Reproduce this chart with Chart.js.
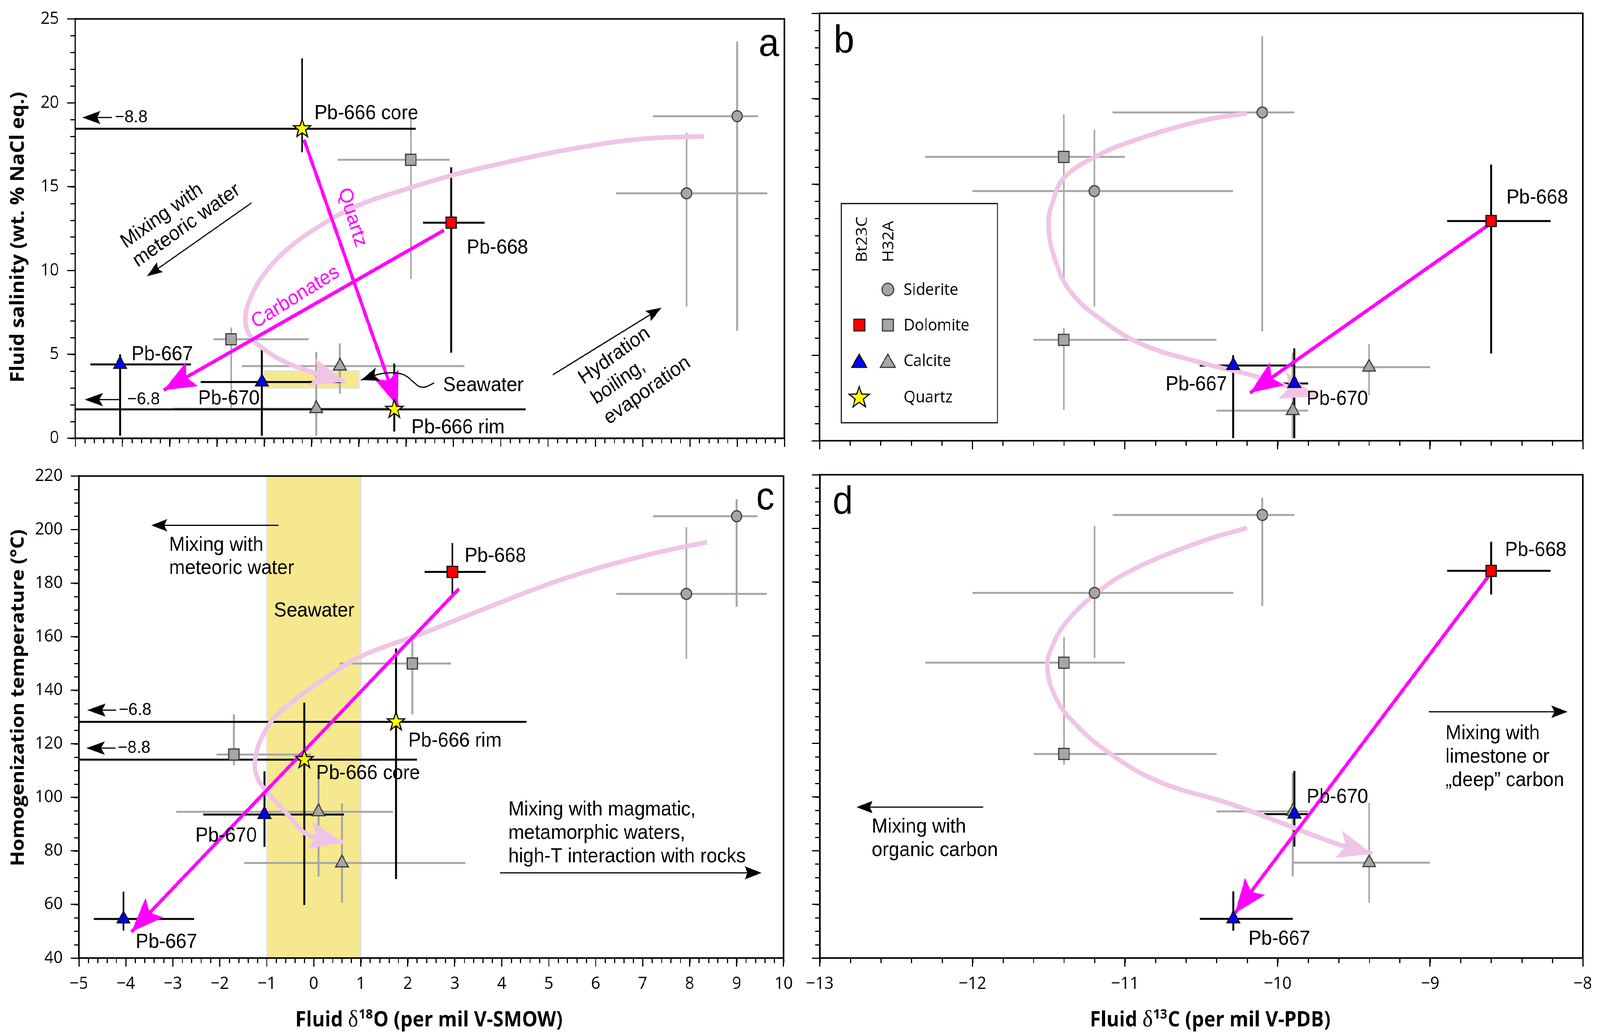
<!DOCTYPE html>
<html>
<head>
<meta charset="utf-8">
<script src="https://cdn.jsdelivr.net/npm/chart.js@4.4.1/dist/chart.umd.min.js"></script>
<style>
html,body{margin:0;padding:0;background:#fff;overflow:hidden;}
#wrap{position:absolute;left:0;top:0;width:4363px;height:2649px;background:#fff;overflow:hidden;transform-origin:0 0;}
#wrap canvas{position:absolute;}
</style>
</head>
<body>
<div id="wrap">
<canvas id="ca"></canvas><canvas id="cb"></canvas><canvas id="cc"></canvas><canvas id="cd"></canvas>
</div>
<script>
// ---------------- DATA ----------------
// Bt23C samples (coloured symbols)
const btLabels  = ['Pb-667', 'Pb-670', 'Pb-668', 'Pb-666 core', 'Pb-666 rim'];
const btMineral = ['Calcite', 'Calcite', 'Dolomite', 'Quartz', 'Quartz'];
const btO18   = [-4.05, -1.05, 2.95, -0.2, 1.75];
const btO18Lo = [-4.68, -2.35, 2.36, -8.8, -6.8];
const btO18Hi = [-2.55, 0.64, 3.66, 2.2, 4.53];
const btSal   = [4.4, 3.35, 12.85, 18.45, 1.72];
const btSalLo = [0.15, 0.15, 5.1, 17.05, 0.4];
const btSalHi = [5.0, 5.4, 16.15, 22.65, 4.45];
const btC13   = [-10.29, -9.89, -8.6, null, null];
const btC13Lo = [-10.51, -10.09, -8.89, null, null];
const btC13Hi = [-9.9, -9.8, -8.21, null, null];
const btTh    = [54.6, 93.6, 184.2, 114.1, 128.2];
const btThLo  = [50.2, 81.5, 175.4, 59.8, 69.5];
const btThHi  = [64.8, 109.7, 195, 135.4, 155.6];

// H32A samples (grey symbols)
const hMineral = ['Siderite', 'Siderite', 'Dolomite', 'Dolomite', 'Calcite', 'Calcite'];
const hO18   = [9.0, 7.93, 2.1, -1.7, 0.1, 0.6];
const hO18Lo = [7.22, 6.44, 0.55, -2.07, -2.93, -1.48];
const hO18Hi = [9.44, 9.64, 2.92, -0.06, 1.69, 3.23];
const hSal   = [19.2, 14.6, 16.6, 5.9, 1.76, 4.3];
const hSalLo = [6.4, 7.85, 9.5, 1.8, 0.15, 2.65];
const hSalHi = [23.65, 18.2, 19.1, 6.6, 5.15, 5.65];
const hC13   = [-10.1, -11.2, -11.4, -11.4, -9.9, -9.4];
const hC13Lo = [-11.08, -12.0, -12.31, -11.6, -10.4, -9.9];
const hC13Hi = [-9.89, -10.29, -11.0, -10.4, -9.8, -9.0];
const hTh    = [205, 176, 150, 116, 94.6, 75.5];
const hThLo  = [171.2, 151.7, 131, 112, 70.4, 60.6];
const hThHi  = [211.4, 200.9, 159.5, 131, 109, 97.8];

// Seawater field
const seaO18 = [-1, 1];
const seaSal = [3, 4];

// Magenta trend arrows (start -> tip)
const carbA_x = [2.80, -3.13], carbA_y = [12.4, 2.86];
const qtzA_x  = [-0.16, 1.82], qtzA_y  = [17.8, 1.9];
const trendB_x = [-8.62, -10.18], trendB_y = [12.6, 2.8];
const trendC_x = [3.09, -3.88],  trendC_y = [177.9, 49.8];
const trendD_x = [-8.61, -10.28], trendD_y = [182.8, 56.7];

// Pale pink evolution paths (start -> tip)
const pinkA_x = [8.3, 7.0, 5.5, 4.2, 3.0, 2.0, 1.0, 0.2, -0.5, -1.0, -1.3, -1.4, -1.3, -1.0, -0.6, 0.0, 0.72];
const pinkA_y = [18.0, 17.85, 17.25, 16.5, 15.7, 14.85, 13.9, 12.7, 11.3, 9.8, 8.3, 7.1, 6.1, 5.3, 4.6, 3.95, 3.38];
const pinkB_x = [-10.2, -10.49, -10.94, -11.19, -11.4, -11.47, -11.5, -11.46, -11.35, -11.11, -10.86, -10.49, -10.15, -9.75];
const pinkB_y = [19.15, 18.73, 17.56, 16.63, 15.37, 14.03, 12.68, 10.67, 8.65, 6.8, 5.54, 4.54, 3.78, 2.6];
const pinkC_x = [8.37, 7.09, 5.3, 3.51, 2.31, 1.12, 0.48, -0.71, -1.07, -1.25, -1.19, -0.95, -0.53, -0.12, 0.63];
const pinkC_y = [195.3, 190.5, 181.5, 169.6, 161.2, 153.6, 147.3, 132, 123.6, 113.8, 106.9, 101.3, 93.1, 86, 83.2];
const pinkD_x = [-10.2, -10.49, -10.94, -11.19, -11.4, -11.49, -11.51, -11.47, -11.36, -11.11, -10.77, -10.33, -9.97, -9.61, -9.38];
const pinkD_y = [200.2, 195.3, 184.9, 175.8, 164, 154.2, 148.7, 138.9, 129.2, 116.6, 105.5, 97.8, 90.2, 82.5, 78.8];

// Axis ranges
const xO18Range = [-5, 10], xC13Range = [-13, -8];
const ySalRange = [0, 25], yThRange = [40, 220];

// ---------------- STYLE ----------------
const MAGENTA = '#ff00ff', PINK = '#f0c4e7', GREYBAR = '#a6a6a6';
const ANN = (s) => s + 'px "Liberation Sans", Arial, sans-serif';
const TICKFONT = {family: '"Open Sans", sans-serif', size: 44};

function starPath(g, x, y, R) {
  g.beginPath();
  for (let i = 0; i < 10; i++) {
    const rr = i % 2 ? R * 0.4 : R;
    const a = -Math.PI / 2 + i * Math.PI / 5;
    g.lineTo(x + rr * Math.cos(a), y + rr * Math.sin(a));
  }
  g.closePath();
}
function makeStar(R) {
  const c = document.createElement('canvas');
  const s = Math.ceil(R * 2 + 8);
  c.width = s; c.height = s;
  const g = c.getContext('2d');
  starPath(g, s / 2, s / 2, R);
  g.fillStyle = '#ffff00'; g.fill();
  g.lineWidth = 3; g.strokeStyle = '#000'; g.lineJoin = 'miter'; g.stroke();
  return c;
}
const STAR = makeStar(25);
const SHAPE = {Siderite: ['circle', 14], Dolomite: ['rect', 20], Calcite: ['triangle', 20]};
const BT_FILL = {Dolomite: '#ff0000', Calcite: '#0000ff', Quartz: '#ffff00'};

function barData(xs, ys, xlo, xhi, ylo, yhi) {
  const d = [];
  xs.forEach((x, i) => {
    if (x == null || ys[i] == null) return;
    d.push({x: xlo[i], y: ys[i]}, {x: xhi[i], y: ys[i]}, {x: xhi[i], y: null});
    d.push({x: x, y: ylo[i]}, {x: x, y: yhi[i]}, {x: x, y: null});
  });
  return d;
}
function barSet(data, color, width, order) {
  return {data, showLine: true, spanGaps: false, borderColor: color, borderWidth: width,
    pointRadius: 0, borderCapStyle: 'butt', order, clip: 0};
}
function markerSet(xs, ys, minerals, group, order) {
  const idx = xs.map((x, i) => i).filter(i => xs[i] != null && ys[i] != null);
  return {
    data: idx.map(i => ({x: xs[i], y: ys[i]})),
    showLine: false, order,
    pointStyle: idx.map(i => minerals[i] === 'Quartz' ? STAR : SHAPE[minerals[i]][0]),
    pointRadius: idx.map(i => minerals[i] === 'Quartz' ? 25 : SHAPE[minerals[i]][1]),
    pointBackgroundColor: idx.map(i => group === 'bt' ? BT_FILL[minerals[i]] : '#a6a6a6'),
    pointBorderColor: group === 'bt' ? '#111' : '#3a3a3a',
    pointBorderWidth: 3
  };
}
function pathSet(xs, ys, color, width, tension, order, head) {
  return {data: xs.map((x, i) => ({x, y: ys[i]})), showLine: true, borderColor: color,
    borderWidth: width, pointRadius: 0, tension, order, arrow: head, borderCapStyle: 'butt', clip: false};
}

function stealth(ctx, tip, ang, len, half, notch, color) {
  ctx.save();
  ctx.translate(tip[0], tip[1]); ctx.rotate(ang);
  ctx.beginPath();
  ctx.moveTo(0, 0); ctx.lineTo(-len, -half); ctx.lineTo(-len + notch, 0); ctx.lineTo(-len, half);
  ctx.closePath(); ctx.fillStyle = color; ctx.fill();
  ctx.restore();
}
function P(chart, x, y) { return [chart.scales.x.getPixelForValue(x), chart.scales.y.getPixelForValue(y)]; }
function fmtNum(v) { const r = Math.round(v * 100) / 100; return r < 0 ? '\u2212' + Math.abs(r) : String(r); }

function drawItems(chart, items) {
  const ctx = chart.ctx;
  items.forEach(it => {
    ctx.save();
    if (it.t === 'text') {
      const [x, y] = P(chart, it.x, it.y);
      ctx.translate(x, y);
      if (it.rot) ctx.rotate(it.rot * Math.PI / 180);
      ctx.font = it.font || ANN(52);
      ctx.fillStyle = it.color || '#000';
      ctx.textAlign = it.align || 'left';
      ctx.textBaseline = it.base || 'alphabetic';
      it.text.split('\n').forEach((l, i) => ctx.fillText(l, 0, i * (it.lh || 60)));
    } else if (it.t === 'arrow') {
      const a = P(chart, it.from[0], it.from[1]), b = P(chart, it.to[0], it.to[1]);
      const ang = Math.atan2(b[1] - a[1], b[0] - a[0]);
      const h = it.head || [44, 16, 8];
      ctx.strokeStyle = '#000'; ctx.lineWidth = it.w || 3;
      ctx.beginPath(); ctx.moveTo(a[0], a[1]);
      ctx.lineTo(b[0] - Math.cos(ang) * (h[0] - h[2]), b[1] - Math.sin(ang) * (h[0] - h[2]));
      ctx.stroke();
      stealth(ctx, b, ang, h[0], h[1], h[2], '#000');
    } else if (it.t === 'curve') {
      const pts = it.pts.map(p => P(chart, p[0], p[1]));
      ctx.strokeStyle = '#000'; ctx.lineWidth = it.w || 3; ctx.lineCap = 'round';
      ctx.beginPath(); ctx.moveTo(pts[0][0], pts[0][1]);
      for (let i = 1; i < pts.length - 1; i++) {
        const mx = (pts[i][0] + pts[i + 1][0]) / 2, my = (pts[i][1] + pts[i + 1][1]) / 2;
        ctx.quadraticCurveTo(pts[i][0], pts[i][1], mx, my);
      }
      const n = pts.length;
      ctx.lineTo(pts[n - 1][0], pts[n - 1][1]);
      ctx.stroke();
      const ang = Math.atan2(pts[n - 1][1] - pts[n - 2][1], pts[n - 1][0] - pts[n - 2][0]);
      const h = it.head || [46, 17, 9];
      stealth(ctx, pts[n - 1], ang, h[0], h[1], h[2], '#000');
    }
    ctx.restore();
  });
}

function drawMinor(chart, axis, step, len) {
  const s = chart.scales[axis], ctx = chart.ctx, a = chart.chartArea;
  ctx.save(); ctx.strokeStyle = '#000'; ctx.lineWidth = 3; ctx.beginPath();
  const n = Math.round((s.max - s.min) / step);
  for (let i = 0; i <= n; i++) {
    const p = Math.round(s.getPixelForValue(s.min + i * step)) + 0.5;
    if (axis === 'x') { ctx.moveTo(p, a.bottom); ctx.lineTo(p, a.bottom + len); }
    else { ctx.moveTo(a.left, p); ctx.lineTo(a.left - len, p); }
  }
  ctx.stroke(); ctx.restore();
}

// ---- axis titles ----
function yTitle(ctx, text, x, cy, len) {
  ctx.save();
  ctx.font = 'bold 50px "Open Sans", sans-serif';
  const size = 50 * len / ctx.measureText(text).width;
  ctx.translate(x, cy); ctx.rotate(-Math.PI / 2);
  ctx.font = 'bold ' + size.toFixed(1) + 'px "Open Sans", sans-serif'; ctx.fillStyle = '#000';
  ctx.textAlign = 'center'; ctx.textBaseline = 'alphabetic';
  ctx.fillText(text, 0, 0); ctx.restore();
}
const tFonts = (k) => ({B: 'bold ' + (50 * k).toFixed(1) + 'px "Open Sans", sans-serif',
  D: (56 * k).toFixed(1) + 'px "Liberation Serif", serif', S: 'bold ' + (32 * k).toFixed(1) + 'px "Open Sans", sans-serif'});
function tWidths(ctx, f, pre, sup, post) {
  ctx.font = f.B; const w1 = ctx.measureText(pre).width, w3 = ctx.measureText(post).width;
  ctx.font = f.D; const w2 = ctx.measureText('\u03b4').width;
  ctx.font = f.S; const ws = ctx.measureText(sup).width;
  return [w1, w2, ws, w3];
}
let titleK = null;
function xTitle(ctx, cx, by, pre, sup, post, len) {
  ctx.save(); ctx.fillStyle = '#000'; ctx.textAlign = 'left'; ctx.textBaseline = 'alphabetic';
  if (titleK == null) {
    const w = tWidths(ctx, tFonts(1), pre, sup, post);
    titleK = len / (w[0] + w[1] + w[2] + w[3] + 2);
  }
  const k = titleK, f = tFonts(k), w = tWidths(ctx, f, pre, sup, post);
  let x = cx - (w[0] + w[1] + w[2] + w[3] + 2) / 2;
  ctx.font = f.B; ctx.fillText(pre, x, by); x += w[0];
  ctx.font = f.D; ctx.fillText('\u03b4', x, by); x += w[1] + 1;
  ctx.font = f.S; ctx.fillText(sup, x, by - 19 * k); x += w[2] + 1;
  ctx.font = f.B; ctx.fillText(post, x, by);
  ctx.restore();
}

function legendShape(ctx, shape, x, y, r, fill, stroke) {
  ctx.save(); ctx.fillStyle = fill; ctx.strokeStyle = stroke; ctx.lineWidth = 3; ctx.beginPath();
  if (shape === 'circle') ctx.arc(x, y, r, 0, Math.PI * 2);
  else if (shape === 'rect') ctx.rect(x - r, y - r, 2 * r, 2 * r);
  else if (shape === 'triangle') { ctx.moveTo(x, y - r * 1.1); ctx.lineTo(x + r * 1.2, y + r * 0.9); ctx.lineTo(x - r * 1.2, y + r * 0.9); ctx.closePath(); }
  else if (shape === 'star') starPath(ctx, x, y, r);
  ctx.fill(); ctx.stroke(); ctx.restore();
}

// ---------------- PANELS ----------------
const panels = {
  a: {id: 'ca', left: 0,    top: 0,    w: 2180, h: 1170, area: {l: 205,  r: 2139, t: 34,   b: 1128}},
  b: {id: 'cb', left: 2180, top: 0,    w: 2183, h: 1170, area: {l: 2235, r: 4316, t: 34,   b: 1128}},
  c: {id: 'cc', left: 0,    top: 1170, w: 2180, h: 1479, area: {l: 215,  r: 2139, t: 1215, b: 2452}},
  d: {id: 'cd', left: 2180, top: 1170, w: 2183, h: 1479, area: {l: 2235, r: 4316, t: 1215, b: 2452}}
};

function buildChart(p, spec) {
  const cv = document.getElementById(p.id);
  cv.width = p.w; cv.height = p.h;
  cv.style.left = p.left + 'px'; cv.style.top = p.top + 'px';
  cv.style.width = p.w + 'px'; cv.style.height = p.h + 'px';
  const gridOpt = {display: true, drawOnChartArea: false, drawTicks: true, tickLength: 22,
    tickWidth: 3, tickColor: '#000', lineWidth: 3, color: '#000'};
  const plugin = {
    id: 'panel_' + p.id,
    beforeDatasetsDraw(chart) {
      const ctx = chart.ctx, a = chart.chartArea, sx = chart.scales.x, sy = chart.scales.y;
      (spec.bands || []).forEach(b => {
        const x0 = sx.getPixelForValue(b.x[0]), x1 = sx.getPixelForValue(b.x[1]);
        const y0 = b.y ? sy.getPixelForValue(b.y[1]) : a.top, y1 = b.y ? sy.getPixelForValue(b.y[0]) : a.bottom;
        ctx.save(); ctx.fillStyle = '#f6e88f'; ctx.fillRect(x0, y0, x1 - x0, y1 - y0);
        ctx.strokeStyle = '#e2e2e2'; ctx.lineWidth = 4; ctx.strokeRect(x0, y0, x1 - x0, y1 - y0); ctx.restore();
      });
    },
    afterDatasetDraw(chart, args) {
      const ds = chart.data.datasets[args.index];
      if (!ds.arrow) return;
      const pts = args.meta.data, n = pts.length;
      const tip = [pts[n - 1].x, pts[n - 1].y];
      let fx = pts[n - 2].x, fy = pts[n - 2].y;
      const e = pts[n - 1];
      if (e.cp1x != null && Math.hypot(e.cp1x - tip[0], e.cp1y - tip[1]) > 5) { fx = e.cp1x; fy = e.cp1y; }
      const h = ds.arrow;
      stealth(chart.ctx, tip, Math.atan2(tip[1] - fy, tip[0] - fx), h[0], h[1], h[2], ds.borderColor);
    },
    afterDatasetsDraw(chart) { drawItems(chart, spec.items || []); },
    afterDraw(chart) {
      const ctx = chart.ctx, a = chart.chartArea;
      drawMinor(chart, 'x', spec.xMinor, 13);
      drawMinor(chart, 'y', spec.yMinor, 13);
      ctx.save(); ctx.strokeStyle = '#000'; ctx.lineWidth = 4;
      ctx.strokeRect(a.left, a.top, a.right - a.left, a.bottom - a.top); ctx.restore();
      if (spec.after) spec.after(chart, ctx, p);
    }
  };
  return new Chart(cv, {
    type: 'scatter',
    data: {datasets: spec.datasets},
    options: {
      responsive: false, animation: false, devicePixelRatio: 1, events: [],
      layout: {padding: {left: 0, bottom: 0, top: p.area.t - p.top, right: (p.left + p.w) - p.area.r}},
      plugins: {legend: {display: false}, tooltip: {enabled: false}},
      scales: {
        x: {type: 'linear', min: spec.xRange[0], max: spec.xRange[1],
          afterFit: (s) => { s.height = (p.top + p.h) - p.area.b; },
          ticks: {display: spec.xLabels, stepSize: spec.xStep, callback: fmtNum, font: TICKFONT,
            color: '#000', padding: 18, maxRotation: 0, autoSkip: false},
          grid: gridOpt, border: {display: true, color: '#000', width: 4}},
        y: {type: 'linear', min: spec.yRange[0], max: spec.yRange[1],
          afterFit: (s) => { s.width = p.area.l - p.left; },
          ticks: {display: spec.yLabels, stepSize: spec.yStep, callback: fmtNum, font: TICKFONT,
            color: '#000', padding: 22, autoSkip: false},
          grid: gridOpt, border: {display: true, color: '#000', width: 4}}
      }
    },
    plugins: [plugin]
  });
}

const headMag = [88, 35, 18], headPink = [95, 36, 20];

// Panel a : salinity vs d18O
buildChart(panels.a, {
  xRange: xO18Range, yRange: ySalRange, xStep: 1, yStep: 5, xMinor: 0.2, yMinor: 1,
  xLabels: false, yLabels: true,
  bands: [{x: seaO18, y: seaSal}],
  datasets: [
    markerSet(btO18, btSal, btMineral, 'bt', 0),
    markerSet(hO18, hSal, hMineral, 'h', 1),
    pathSet(carbA_x, carbA_y, MAGENTA, 9, 0, 2, headMag),
    pathSet(qtzA_x, qtzA_y, MAGENTA, 9, 0, 2, headMag),
    pathSet(pinkA_x, pinkA_y, PINK, 12, 0.4, 3, headPink),
    barSet(barData(btO18, btSal, btO18Lo, btO18Hi, btSalLo, btSalHi), '#000', 5, 4),
    barSet(barData(hO18, hSal, hO18Lo, hO18Hi, hSalLo, hSalHi), GREYBAR, 5, 5)
  ],
  items: [
    {t: 'text', text: 'a', x: 9.67, y: 22.8, align: 'center', font: ANN(100)},
    {t: 'arrow', from: [-4.22, 19.12], to: [-4.85, 19.12], head: [50, 17, 10]},
    {t: 'text', text: '\u22128.8', x: -4.16, y: 19.12, base: 'middle', font: ANN(45)},
    {t: 'arrow', from: [-4.07, 2.30], to: [-4.80, 2.30], head: [50, 17, 10]},
    {t: 'text', text: '\u22126.8', x: -3.90, y: 2.30, base: 'middle', font: ANN(45)},
    {t: 'arrow', from: [-1.27, 14.03], to: [-3.48, 9.66], head: [42, 15, 7]},
    {t: 'text', text: 'Mixing with\nmeteoric water', x: -3.93, y: 11.3, rot: -34, lh: 58},
    {t: 'arrow', from: [5.10, 3.78], to: [7.40, 7.78], head: [42, 15, 7]},
    {t: 'text', text: 'Hydration\nboiling,\nevaporation', x: 5.75, y: 3.19, rot: -34, lh: 62},
    {t: 'text', text: 'Quartz', x: 0.86, y: 13.16, rot: 72, align: 'center', base: 'middle', color: MAGENTA},
    {t: 'text', text: 'Carbonates', x: -0.34, y: 8.4, rot: -30.5, align: 'center', base: 'middle', color: MAGENTA},
    {t: 'text', text: btLabels[3], x: 0.06, y: 19.02},
    {t: 'text', text: btLabels[2], x: 3.28, y: 11.0},
    {t: 'text', text: btLabels[0], x: -3.81, y: 4.65},
    {t: 'text', text: btLabels[1], x: -2.40, y: 2.02},
    {t: 'text', text: btLabels[4], x: 2.11, y: 0.29},
    {t: 'text', text: 'Seawater', x: 2.78, y: 2.81},
    {t: 'curve', pts: [[2.58, 3.29], [2.43, 3.03], [2.28, 3.04], [2.12, 3.43], [1.98, 3.78], [1.78, 3.91], [1.53, 3.89], [1.36, 3.78], [1.05, 3.47]], head: [48, 18, 10]}
  ],
  after(chart, ctx, p) { yTitle(ctx, 'Fluid salinity (wt. % NaCl eq.)', 65 - p.left, 607 - p.top, 744); }
});

// Panel b : salinity vs d13C
buildChart(panels.b, {
  xRange: xC13Range, yRange: ySalRange, xStep: 1, yStep: 5, xMinor: 0.2, yMinor: 1,
  xLabels: false, yLabels: false,
  datasets: [
    markerSet(btC13, btSal, btMineral, 'bt', 0),
    markerSet(hC13, hSal, hMineral, 'h', 1),
    pathSet(trendB_x, trendB_y, MAGENTA, 9, 0, 2, headMag),
    pathSet(pinkB_x, pinkB_y, PINK, 12, 0.4, 3, headPink),
    barSet(barData(btC13, btSal, btC13Lo, btC13Hi, btSalLo, btSalHi), '#000', 5, 4),
    barSet(barData(hC13, hSal, hC13Lo, hC13Hi, hSalLo, hSalHi), GREYBAR, 5, 5)
  ],
  items: [
    {t: 'text', text: 'b', x: -12.84, y: 22.7, align: 'center', font: ANN(100)},
    {t: 'text', text: btLabels[2], x: -8.50, y: 13.86},
    {t: 'text', text: btLabels[0], x: -10.33, y: 2.94, align: 'right'},
    {t: 'text', text: btLabels[1], x: -9.81, y: 2.1}
  ],
  after(chart, ctx, p) {
    const ox = p.left, oy = p.top;
    ctx.save();
    ctx.strokeStyle = '#000'; ctx.lineWidth = 3;
    ctx.strokeRect(2294 - ox, 521 - oy, 426, 561);
    ctx.fillStyle = '#000'; ctx.font = '42px "Open Sans", sans-serif';
    [['Bt23C', 2350], ['H32A', 2422]].forEach(([t, x]) => {
      ctx.save(); ctx.translate(x - ox + 14, 671 - oy); ctx.rotate(-Math.PI / 2);
      ctx.textAlign = 'left'; ctx.textBaseline = 'alphabetic'; ctx.fillText(t, 0, 0); ctx.restore();
    });
    ctx.textAlign = 'left'; ctx.textBaseline = 'middle';
    const rows = [['Siderite', 741], ['Dolomite', 832], ['Calcite', 923], ['Quartz', 1016]];
    rows.forEach(([t, y]) => ctx.fillText(t, 2464 - ox, y - oy + 2));
    const c1 = 2343 - ox, c2 = 2421 - ox;
    legendShape(ctx, 'circle', c2, 741 - oy, 16, '#a6a6a6', '#3a3a3a');
    legendShape(ctx, 'rect', c1, 832 - oy, 15, '#ff0000', '#222');
    legendShape(ctx, 'rect', c2, 832 - oy, 15, '#a6a6a6', '#3a3a3a');
    legendShape(ctx, 'triangle', c1, 925 - oy, 17, '#0000ff', '#111');
    legendShape(ctx, 'triangle', c2, 925 - oy, 17, '#a6a6a6', '#3a3a3a');
    legendShape(ctx, 'star', c1, 1018 - oy, 29, '#ffff00', '#000');
    ctx.restore();
  }
});

// Panel c : Th vs d18O
buildChart(panels.c, {
  xRange: xO18Range, yRange: yThRange, xStep: 1, yStep: 20, xMinor: 0.2, yMinor: 5,
  xLabels: true, yLabels: true,
  bands: [{x: seaO18}],
  datasets: [
    markerSet(btO18, btTh, btMineral, 'bt', 0),
    markerSet(hO18, hTh, hMineral, 'h', 1),
    pathSet(trendC_x, trendC_y, MAGENTA, 9, 0, 2, headMag),
    pathSet(pinkC_x, pinkC_y, PINK, 12, 0.4, 3, headPink),
    barSet(barData(btO18, btTh, btO18Lo, btO18Hi, btThLo, btThHi), '#000', 5, 4),
    barSet(barData(hO18, hTh, hO18Lo, hO18Hi, hThLo, hThHi), GREYBAR, 5, 5)
  ],
  items: [
    {t: 'text', text: 'c', x: 9.61, y: 207.5, align: 'center', font: ANN(100)},
    {t: 'arrow', from: [-0.75, 201.6], to: [-3.46, 201.6], head: [44, 16, 8]},
    {t: 'text', text: 'Mixing with\nmeteoric water', x: -3.08, y: 192.1, lh: 59},
    {t: 'text', text: 'Seawater', x: -0.85, y: 167.5},
    {t: 'arrow', from: [-4.21, 132.6], to: [-4.82, 132.6], head: [50, 17, 10]},
    {t: 'text', text: '\u22126.8', x: -4.15, y: 132.6, base: 'middle', font: ANN(45)},
    {t: 'arrow', from: [-4.22, 118.4], to: [-4.84, 118.4], head: [50, 17, 10]},
    {t: 'text', text: '\u22128.8', x: -4.17, y: 118.4, base: 'middle', font: ANN(45)},
    {t: 'text', text: btLabels[3], x: 0.05, y: 106.9},
    {t: 'text', text: btLabels[1], x: -2.52, y: 83.5},
    {t: 'text', text: btLabels[0], x: -3.79, y: 43.8},
    {t: 'text', text: btLabels[2], x: 3.21, y: 188},
    {t: 'text', text: btLabels[4], x: 2.01, y: 119},
    {t: 'text', text: 'Mixing with magmatic,\nmetamorphic waters,\nhigh-T interaction with rocks', x: 4.14, y: 93.3, lh: 60},
    {t: 'arrow', from: [3.96, 71.8], to: [9.53, 71.8], head: [46, 17, 8]}
  ],
  after(chart, ctx, p) {
    yTitle(ctx, 'Homogenization temperature (\u00b0C)', 65 - p.left, 1786 - p.top, 861);
    xTitle(ctx, 1170 - p.left, 2627 - p.top, 'Fluid ', '18', 'O (per mil V-SMOW)', 729);
  }
});

// Panel d : Th vs d13C
buildChart(panels.d, {
  xRange: xC13Range, yRange: yThRange, xStep: 1, yStep: 20, xMinor: 0.2, yMinor: 5,
  xLabels: true, yLabels: false,
  datasets: [
    markerSet(btC13, btTh, btMineral, 'bt', 0),
    markerSet(hC13, hTh, hMineral, 'h', 1),
    pathSet(trendD_x, trendD_y, MAGENTA, 9, 0, 2, headMag),
    pathSet(pinkD_x, pinkD_y, PINK, 12, 0.4, 3, headPink),
    barSet(barData(btC13, btTh, btC13Lo, btC13Hi, btThLo, btThHi), '#000', 5, 4),
    barSet(barData(hC13, hTh, hC13Lo, hC13Hi, hThLo, hThHi), GREYBAR, 5, 5)
  ],
  items: [
    {t: 'text', text: 'd', x: -12.85, y: 205.5, align: 'center', font: ANN(100)},
    {t: 'arrow', from: [-11.93, 96.2], to: [-12.76, 96.2], head: [44, 16, 8]},
    {t: 'text', text: 'Mixing with\norganic carbon', x: -12.66, y: 86.7, lh: 60},
    {t: 'arrow', from: [-9.01, 131.7], to: [-8.10, 131.7], head: [44, 16, 8]},
    {t: 'text', text: 'Mixing with\nlimestone or\n\u201edeep\u201d carbon', x: -8.90, y: 121.5, lh: 60},
    {t: 'text', text: btLabels[2], x: -8.51, y: 189.8},
    {t: 'text', text: btLabels[1], x: -9.81, y: 97.8},
    {t: 'text', text: btLabels[0], x: -10.19, y: 44.9}
  ],
  after(chart, ctx, p) {
    xTitle(ctx, 3300 - p.left, 2627 - p.top, 'Fluid ', '13', 'C (per mil V-PDB)', 729);
  }
});

// Fit the 4363x2649 figure into the actual viewport
(function fit() {
  const sx = window.innerWidth / 4363, sy = window.innerHeight / 2649;
  if (Math.abs(sx - 1) > 0.002 || Math.abs(sy - 1) > 0.002) {
    document.getElementById('wrap').style.transform = 'scale(' + sx + ',' + sy + ')';
  }
})();
</script>
</body>
</html>
